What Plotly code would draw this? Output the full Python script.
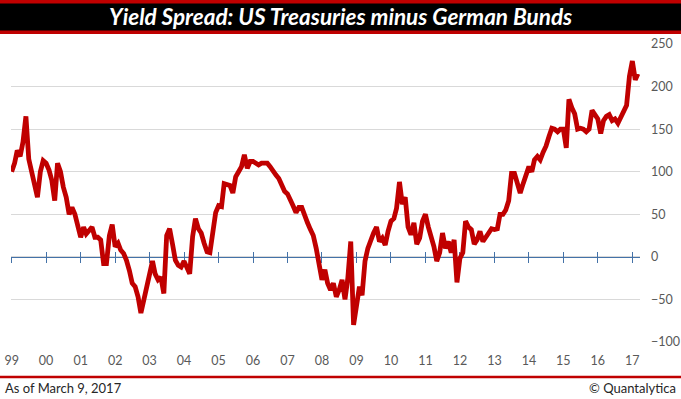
import pandas as pd
import plotly.graph_objects as go

# Monthly readings of the spread (basis points), Jan 1999 .. Mar 2017
y1999 = [100, 110, 125, 118, 135, 165, 115, 98, 82, 70, 100, 113]
y2000 = [110, 102, 90, 66, 110, 100, 82, 70, 50, 58, 50, 39]
y2001 = [23, 35, 27, 31, 35, 23, 23, 20, -8, -8, 25, 38]
y2002 = [12, 16, 8, 4, -4, -16, -31, -35, -47, -66, -50, -39]
y2003 = [-20, -5, -20, -27, -24, -43, 25, 33, 15, -4, -10, -12]
y2004 = [-5, -12, -20, 24, 45, 33, 28, 16, 6, 5, 28, 52]
y2005 = [60, 59, 86, 85, 84, 75, 94, 100, 106, 120, 104, 112]
y2006 = [112, 110, 108, 110, 110, 110, 106, 100, 96, 92, 84, 77]
y2007 = [74, 68, 60, 52, 58, 58, 47, 40, 32, 25, 10, -8]
y2008 = [-27, -15, -31, -39, -31, -47, -39, -27, -50, -25, 18, -80]
y2009 = [-55, -35, -45, -5, 10, 20, 28, 35, 18, 22, 14, 30]
y2010 = [42, 45, 57, 88, 62, 70, 35, 26, 40, 15, 22, 42]
y2011 = [50, 35, 24, 12, -5, 5, 28, 10, 18, 5, 20, -30]
y2012 = [-2, 5, 42, 35, 32, 15, 20, 30, 18, 22, 28, 33]
y2013 = [32, 33, 50, 50, 55, 66, 98, 98, 86, 75, 86, 96]
y2014 = [106, 100, 114, 118, 114, 123, 130, 141, 151, 150, 147, 150]
y2015 = [150, 128, 185, 175, 168, 150, 151, 150, 147, 150, 172, 167]
y2016 = [162, 145, 160, 165, 167, 160, 162, 157, 165, 170, 178, 212]
y2017 = [230, 208, 215]

spread = (y1999 + y2000 + y2001 + y2002 + y2003 + y2004 + y2005 + y2006 + y2007
          + y2008 + y2009 + y2010 + y2011 + y2012 + y2013 + y2014 + y2015 + y2016 + y2017)
dates = pd.date_range("1999-01-01", periods=len(spread), freq="MS")

y_ticks = [-100, -50, 0, 50, 100, 150, 200, 250]

title_text = "Yield Spread: US Treasuries minus German Bunds"
note_left = "As of March 9, 2017"
note_right = "© Quantalytica"

RED = "#C00000"
BLUE = "#4472A8"
GRAY = "#595959"
FONT = "Lato"

fig = go.Figure()
fig.add_trace(go.Scatter(x=dates, y=spread, mode="lines",
                         line=dict(color=RED, width=4.8), hoverinfo="skip",
                         showlegend=False))
# helper empty traces so the zero-line axes get drawn
fig.add_trace(go.Scatter(x=[], y=[], xaxis="x2", yaxis="y", showlegend=False))
fig.add_trace(go.Scatter(x=[], y=[], xaxis="x3", yaxis="y", showlegend=False))

xrange = ["1998-12-25", "2017-03-23"]
zero_pos = (0 - y_ticks[0]) / (y_ticks[-1] - y_ticks[0])

fig.update_layout(
    width=681, height=399,
    margin=dict(l=11, r=41, t=44, b=57, autoexpand=False),
    paper_bgcolor="white", plot_bgcolor="white",
    font=dict(family=FONT, color=GRAY, size=12),
    xaxis=dict(type="date", range=xrange, tick0="1999-01-01", dtick="M12",
               tickformat="%y", showgrid=False, showline=False, zeroline=False,
               automargin=False,
               ticks="", ticklabelstandoff=9, tickfont=dict(size=12.5, color=GRAY)),
    xaxis2=dict(type="date", overlaying="x", matches="x", anchor="free",
                position=zero_pos, side="bottom", showline=True, linecolor=BLUE,
                linewidth=1, ticks="outside", ticklen=5, tickcolor=BLUE, tickwidth=1,
                tick0="1999-01-01", dtick="M12", showticklabels=False, automargin=False,
                showgrid=False, zeroline=False, layer="below traces"),
    xaxis3=dict(type="date", overlaying="x", matches="x", anchor="free",
                position=zero_pos, side="bottom", showline=False, automargin=False,
                ticks="inside", ticklen=5, tickcolor=BLUE, tickwidth=1,
                tick0="1999-01-01", dtick="M12", showticklabels=False,
                showgrid=False, zeroline=False, layer="below traces"),
    yaxis=dict(side="right", range=[y_ticks[0], y_ticks[-1]], tickvals=y_ticks,
               showgrid=True, gridcolor="#D9D9D9", gridwidth=1, zeroline=False,
               showline=False, ticks="", ticklabelstandoff=10, automargin=False,
               tickfont=dict(size=12.5, color=GRAY)),
)

# title bar (paper coordinates relative to plot area)
W = 629.0
H = 298.0
def px_x(p):
    return (p - 11) / W
def px_y(p):
    return (342 - p) / H

fig.add_shape(type="rect", xref="paper", yref="paper",
              x0=px_x(0), x1=px_x(681), y0=px_y(34), y1=px_y(0),
              fillcolor=RED, line=dict(width=0), layer="above")
fig.add_shape(type="rect", xref="paper", yref="paper",
              x0=px_x(0), x1=px_x(681), y0=px_y(30.5), y1=px_y(3.4),
              fillcolor="black", line=dict(width=0), layer="above")
fig.add_annotation(text=title_text, xref="paper", yref="paper",
                   x=px_x(340), y=px_y(17), xanchor="center", yanchor="middle",
                   showarrow=False,
                   font=dict(family=FONT, size=22.5, color="white",
                             weight="bold", style="italic"))
# footer
fig.add_shape(type="line", xref="paper", yref="paper",
              x0=px_x(0), x1=px_x(681), y0=px_y(377), y1=px_y(377),
              line=dict(color=RED, width=2.5))
fig.add_annotation(text=note_left, xref="paper", yref="paper",
                   x=px_x(3), y=px_y(388), xanchor="left", yanchor="middle",
                   showarrow=False, font=dict(family=FONT, size=13, color="#262626"))
fig.add_annotation(text=note_right, xref="paper", yref="paper",
                   x=px_x(678), y=px_y(388), xanchor="right", yanchor="middle",
                   showarrow=False, font=dict(family=FONT, size=13, color="#262626"))

fig.write_html("out.html", config={"displayModeBar": False},
               post_script="document.body.style.margin='0';document.body.style.padding='0';")
